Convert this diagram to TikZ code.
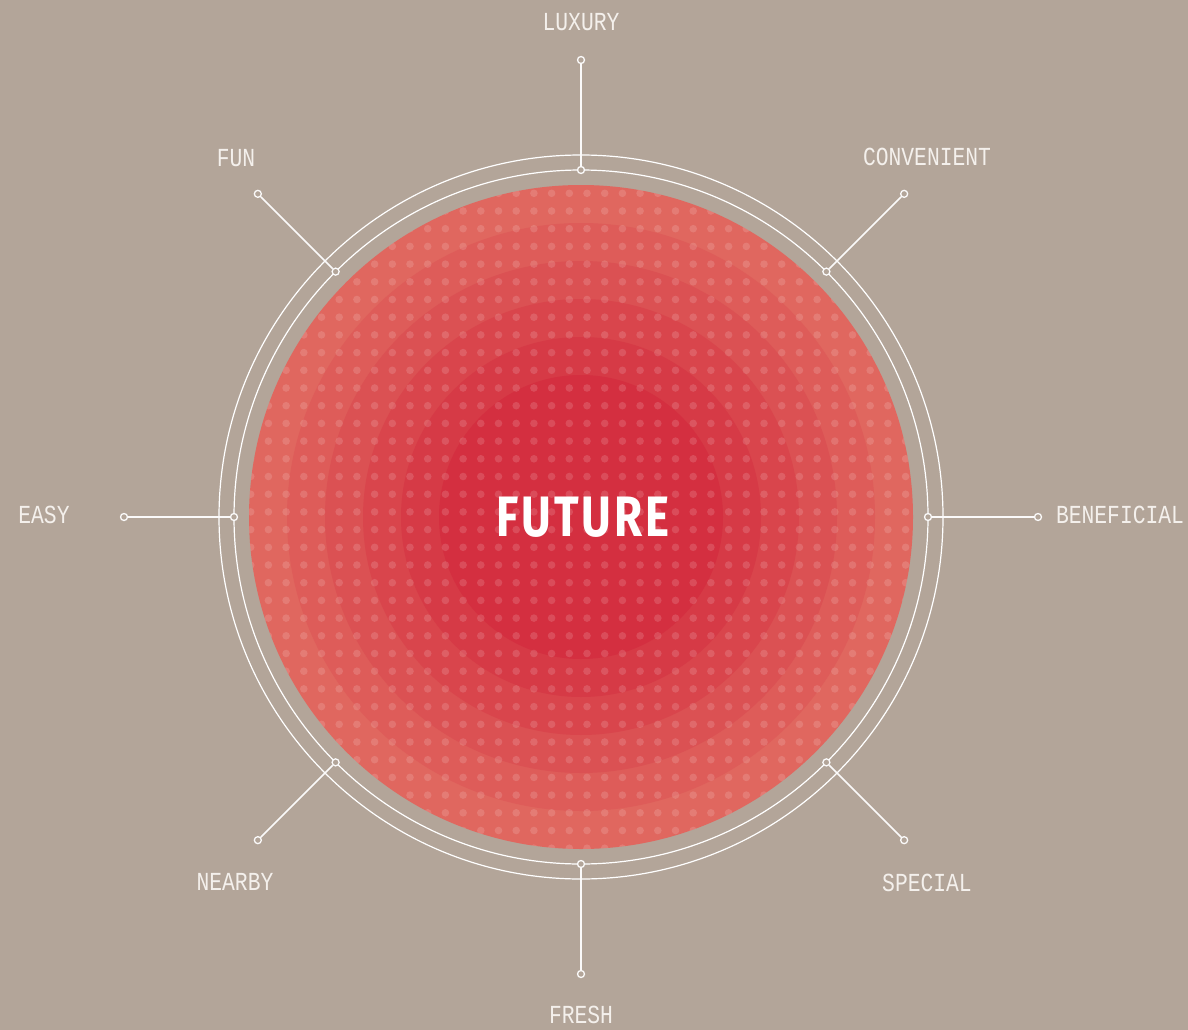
\documentclass[tikz,border=0pt]{standalone}
\usepackage{fontspec}
\usetikzlibrary{calc}
\newfontfamily\labfont[FakeStretch=0.82]{Liberation Mono}
\newfontfamily\bigfont[FakeStretch=0.8,LetterSpace=5]{Fira Sans}
\definecolor{bg}{HTML}{B3A599}
\definecolor{innerred}{HTML}{D42F40}
\definecolor{outerred}{HTML}{E0675F}
\definecolor{labc}{HTML}{F4F0EC}
\tikzset{
  ring/.style={draw=white, line width=1.2pt},
  spoke/.style={draw=white!95!bg, line width=1.5pt},
  pindot/.style={circle, draw=white!95!bg, line width=1.3pt, fill=bg, minimum size=7pt, inner sep=0pt},
  lab/.style={text=labc, font=\labfont\fontsize{26}{26}\selectfont, inner sep=0pt},
  title/.style={text=white, font=\bigfont\bfseries\fontsize{57}{57}\selectfont, inner sep=0pt}
}
\begin{document}
\begin{tikzpicture}[x=1pt,y=-1pt]
\fill[bg] (0,0) rectangle (1188,1030);
\useasboundingbox (0,0) rectangle (1188,1030);
\coordinate (c) at (581,517);
% rings
\draw[ring] (c) circle[radius=362];
\draw[ring] (c) circle[radius=347];
% concentric bands
\foreach \r/\t in {332/0,294/20,256/40,218/60,180/80,142/100}
  \fill[innerred!\t!outerred] (c) circle[radius=\r];
% dot pattern
\begin{scope}
  \clip (c) circle[radius=332];
  \foreach \i in {0,...,39}
    \foreach \j in {0,...,39}
      \fill[white, opacity=0.14] ({233+\i*17.7},{175.6+\j*17.7}) circle[radius=3.8];
\end{scope}
% spokes
\foreach \n/\a in {lux/-90,con/-45,ben/0,spe/45,fre/90,nea/135,eas/180,fun/225}{
  \node[pindot] (in\n) at ($(c)+(\a:347)$) {};
  \node[pindot] (out\n) at ($(c)+(\a:457)$) {};
  \draw[spoke] (in\n) -- (out\n);
}
% labels
\node[lab] (llux) at (581,22) {LUXURY};
\node[lab] (lcon) at (927,157) {CONVENIENT};
\node[lab] (lben) at (1120,515) {BENEFICIAL};
\node[lab] (lspe) at (927,883) {SPECIAL};
\node[lab] (lfre) at (581,1015) {FRESH};
\node[lab] (lnea) at (235,882) {NEARBY};
\node[lab] (leas) at (44,515) {EASY};
\node[lab] (lfun) at (236,158) {FUN};
\node[title] (future) at (583,517) {FUTURE};
\end{tikzpicture}
\end{document}
